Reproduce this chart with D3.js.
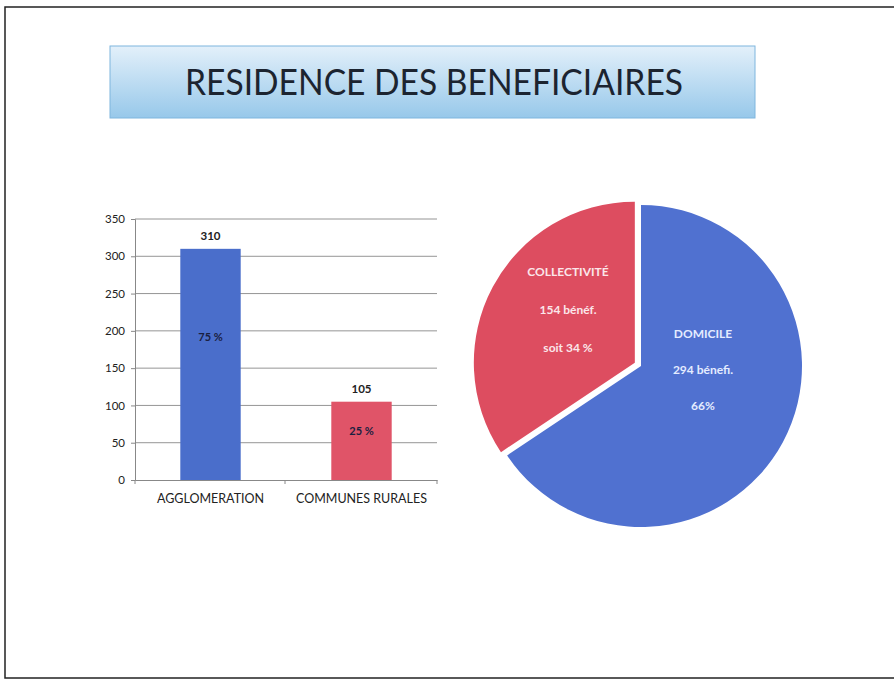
<!DOCTYPE html>
<html>
<head>
<meta charset="utf-8">
<script src="https://cdn.jsdelivr.net/npm/d3@7"></script>
<style>
  body { margin: 0; background: #fff; }
  svg { display: block; font-family: Lato, "Open Sans", sans-serif; }
</style>
</head>
<body>
<svg id="chart" width="894" height="680"></svg>
<script>
// data
var barCategories = ["AGGLOMERATION", "COMMUNES RURALES"];
var barValues = [310, 105];
var barPercents = ["75 %", "25 %"];
var yTicks = [0, 50, 100, 150, 200, 250, 300, 350];

var pieNames = ["DOMICILE", "COLLECTIVITÉ"];
var pieValues = [294, 154];
var pieCounts = ["294 bénefi.", "154 bénéf."];
var piePercents = ["66%", "soit 34 %"];

var svg = d3.select("#chart");

// gradient for title box
var defs = svg.append("defs");
var grad = defs.append("linearGradient").attr("id", "titleGrad")
  .attr("x1", 0).attr("y1", 0).attr("x2", 0).attr("y2", 1);
grad.append("stop").attr("offset", "0%").attr("stop-color", "#e3f0fa");
grad.append("stop").attr("offset", "100%").attr("stop-color", "#97c8ea");

// page frame
svg.append("rect")
  .attr("x", 5).attr("y", 7).attr("width", 900).attr("height", 671)
  .attr("fill", "none").attr("stroke", "#222").attr("stroke-width", 1.5);

// title
svg.append("rect")
  .attr("x", 110).attr("y", 46).attr("width", 645).attr("height", 72)
  .attr("fill", "url(#titleGrad)").attr("stroke", "#7fb6de").attr("stroke-width", 1);
svg.append("text")
  .attr("x", 434).attr("y", 95)
  .attr("text-anchor", "middle")
  .attr("font-size", 36)
  .attr("textLength", 498).attr("lengthAdjust", "spacingAndGlyphs")
  .attr("fill", "#1c2430")
  .text("RESIDENCE DES BENEFICIAIRES");

//=====
// bars
//=====
var x = d3.scaleBand().domain(barCategories).range([135, 437])
  .paddingInner(0.6).paddingOuter(0.3);
var y = d3.scaleLinear().domain([0, 350]).range([480, 219]);

var barG = svg.append("g");

// gridlines
barG.append("g").selectAll("line")
  .data(yTicks.filter(function (d) { return d > 0; }))
  .enter().append("line")
  .attr("x1", 135).attr("x2", 437)
  .attr("y1", function (d) { return y(d); })
  .attr("y2", function (d) { return y(d); })
  .attr("stroke", "#7a7a7a").attr("stroke-width", 0.8);

// y axis
var yAxis = barG.append("g")
  .attr("transform", "translate(135,0)")
  .call(d3.axisLeft(y).tickValues(yTicks).tickSize(4).tickPadding(6));
yAxis.select(".domain").attr("stroke", "#888");
yAxis.selectAll(".tick line").attr("stroke", "#888");
yAxis.selectAll("text").attr("font-size", 11.5).attr("fill", "#222")
  .attr("font-family", "Lato, sans-serif");

// x axis
var xAxis = barG.append("g")
  .attr("transform", "translate(0,480)")
  .call(d3.axisBottom(x).tickSize(0).tickPadding(14));
xAxis.select(".domain").attr("stroke", "#888");
xAxis.selectAll("text").attr("font-size", 12.5).attr("fill", "#222")
  .attr("font-family", "Lato, sans-serif");
// category divider ticks
barG.append("g").selectAll("line")
  .data([135, 285, 437])
  .enter().append("line")
  .attr("x1", function (d) { return d; }).attr("x2", function (d) { return d; })
  .attr("y1", 480).attr("y2", 484)
  .attr("stroke", "#888");

var barColors = ["#4a6ecb", "#e05468"];
barG.append("g").selectAll("rect")
  .data(barValues)
  .enter().append("rect")
  .attr("x", function (d, i) { return x(barCategories[i]); })
  .attr("width", x.bandwidth())
  .attr("y", function (d) { return y(d); })
  .attr("height", function (d) { return y(0) - y(d); })
  .attr("fill", function (d, i) { return barColors[i]; });

// value labels
barG.append("g").selectAll("text")
  .data(barValues)
  .enter().append("text")
  .attr("x", function (d, i) { return x(barCategories[i]) + x.bandwidth() / 2; })
  .attr("y", function (d) { return y(d) - 9; })
  .attr("text-anchor", "middle")
  .attr("font-size", 11.5).attr("font-weight", "bold").attr("fill", "#222")
  .text(function (d) { return d; });

// percent labels inside bars
barG.append("g").selectAll("text")
  .data(barValues)
  .enter().append("text")
  .attr("x", function (d, i) { return x(barCategories[i]) + x.bandwidth() / 2; })
  .attr("y", function (d) { return y(d * 0.62) + 4; })
  .attr("text-anchor", "middle")
  .attr("font-size", 11).attr("font-weight", "bold").attr("fill", "#1a2040")
  .text(function (d, i) { return barPercents[i]; });

//=====
// pie
//=====
var cx = 641, cy = 366, r = 161;
var pie = d3.pie().sort(null).value(function (d) { return d; });
var arc = d3.arc().innerRadius(0).outerRadius(r);
var arcs = pie(pieValues);
var pieColors = ["#5071d0", "#dd4d60"];
var explode = [0, 7];

var pieG = svg.append("g").attr("transform", "translate(" + cx + "," + cy + ")");
pieG.selectAll("path")
  .data(arcs)
  .enter().append("path")
  .attr("d", arc)
  .attr("fill", function (d, i) { return pieColors[i]; })
  .attr("transform", function (d, i) {
    var a = (d.startAngle + d.endAngle) / 2;
    return "translate(" + [Math.sin(a) * explode[i], -Math.cos(a) * explode[i]] + ")";
  });

// pie labels
var labelPos = [[62, -28], [-73, -90]];
arcs.forEach(function (d, i) {
  var lines = [pieNames[i], pieCounts[i], piePercents[i]];
  var gap = i === 0 ? 36 : 38;
  pieG.append("g").selectAll("text")
    .data(lines)
    .enter().append("text")
    .attr("x", labelPos[i][0])
    .attr("y", function (t, j) { return labelPos[i][1] + j * gap; })
    .attr("text-anchor", "middle")
    .attr("font-size", 12).attr("font-weight", "bold")
    .attr("fill", i === 0 ? "#e4ecff" : "#fbe6ea")
    .text(function (t) { return t; });
});
</script>
</body>
</html>
